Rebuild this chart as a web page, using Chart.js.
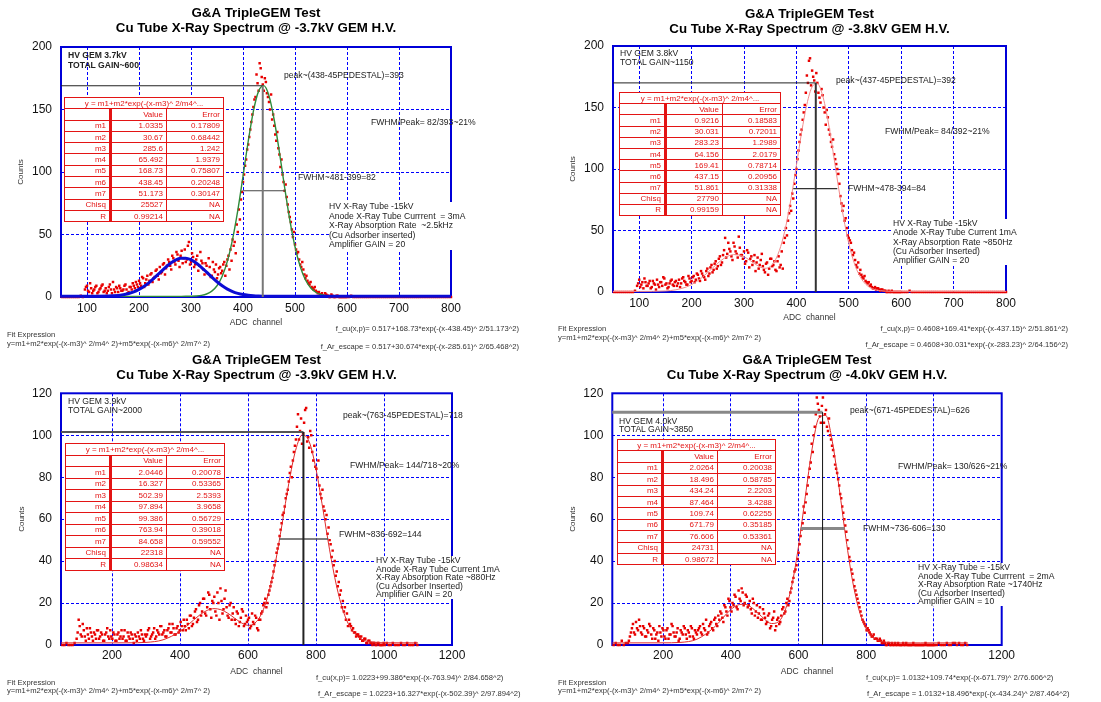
<!DOCTYPE html>
<html>
<head>
<meta charset="utf-8">
<title>G&amp;A TripleGEM Test - Cu Tube X-Ray Spectra</title>
<script src="https://cdn.jsdelivr.net/npm/chart.js@4.4.1/dist/chart.umd.min.js"></script>
<style>
  html, body { margin: 0; padding: 0; background: #fff; }
  body { position: relative; width: 1101px; height: 702px; overflow: hidden; font-family: "Liberation Sans", Arial, sans-serif; }
  canvas { position: absolute; }
  .note { position: absolute; font-size: 8.6px; line-height: 10px; color: #222; white-space: pre; }
  .box { background: #fff; padding-right: 6px; }
  .fit { position: absolute; font-size: 7.6px; line-height: 9px; color: #333; white-space: pre; }
  table.par { position: absolute; border-collapse: collapse; table-layout: fixed; background: #fff; color: #e31414; font-size: 8px; border: 1.5px solid #e31414; }
  table.par td { border: 1px solid #e31414; padding: 0 3px; text-align: right; white-space: nowrap; overflow: hidden; line-height: 9px; }
  table.par td.lab { border-right: 3px solid #e31414; }
  table.par td.head { text-align: center; }
</style>
</head>
<body>
<canvas id="c1" width="550" height="351" style="left:0;top:0"></canvas>
<canvas id="c2" width="550" height="351" style="left:550px;top:0"></canvas>
<canvas id="c3" width="550" height="351" style="left:0;top:350px"></canvas>
<canvas id="c4" width="550" height="351" style="left:550px;top:350px"></canvas>

<!-- panel 1 notes -->
<div class="note" style="left:68px;top:50px;font-weight:bold">HV GEM 3.7kV
TOTAL GAIN~600</div>
<div class="note" style="left:284px;top:70px">peak~(438-45PEDESTAL)=393</div>
<div class="note" style="left:371px;top:117px">FWHM/Peak= 82/393~21%</div>
<div class="note" style="left:298px;top:172px">FWHM~481-399=82</div>
<div class="note box" style="left:329px;top:202px;line-height:9.6px">HV X-Ray Tube -15kV
Anode X-Ray Tube Currrent  = 3mA
X-Ray Absorption Rate  ~2.5kHz
(Cu Adsorber inserted)
Amplifier GAIN = 20</div>
<div class="fit" style="left:7px;top:330px">Fit Expression
y=m1+m2*exp(-(x-m3)^ 2/m4^ 2)+m5*exp(-(x-m6)^ 2/m7^ 2)</div>
<div class="fit" style="right:582px;top:324px">f_cu(x,p)= 0.517+168.73*exp(-(x-438.45)^ 2/51.173^2)</div>
<div class="fit" style="right:582px;top:342px">f_Ar_escape = 0.517+30.674*exp(-(x-285.61)^ 2/65.468^2)</div>

<!-- panel 2 notes -->
<div class="note" style="left:620px;top:49px;line-height:9.3px">HV GEM 3.8kV
TOTAL GAIN~1150</div>
<div class="note" style="left:836px;top:75px">peak~(437-45PEDESTAL)=392</div>
<div class="note" style="left:885px;top:126px">FWHM/Peak= 84/392~21%</div>
<div class="note" style="left:848px;top:183px">FWHM~478-394=84</div>
<div class="note box" style="left:893px;top:219px;line-height:9.25px">HV X-Ray Tube -15kV
Anode X-Ray Tube Current 1mA
X-Ray Absorption Rate ~850Hz
(Cu Adsorber Inserted)
Amplifier GAIN = 20</div>
<div class="fit" style="left:558px;top:324px">Fit Expression
y=m1+m2*exp(-(x-m3)^ 2/m4^ 2)+m5*exp(-(x-m6)^ 2/m7^ 2)</div>
<div class="fit" style="right:33px;top:324px">f_cu(x,p)= 0.4608+169.41*exp(-(x-437.15)^ 2/51.861^2)</div>
<div class="fit" style="right:33px;top:340px">f_Ar_escape = 0.4608+30.031*exp(-(x-283.23)^ 2/64.156^2)</div>

<!-- panel 3 notes -->
<div class="note" style="left:68px;top:397px;line-height:8.6px">HV GEM 3.9kV
TOTAL GAIN~2000</div>
<div class="note" style="left:343px;top:410px">peak~(763-45PEDESTAL)=718</div>
<div class="note" style="left:350px;top:460px">FWHM/Peak= 144/718~20%</div>
<div class="note" style="left:339px;top:529px">FWHM~836-692=144</div>
<div class="note box" style="left:376px;top:556px;line-height:8.6px">HV X-Ray Tube -15kV
Anode X-Ray Tube Current 1mA
X-Ray Absorption Rate ~880Hz
(Cu Adsorber Inserted)
Amplifier GAIN = 20</div>
<div class="fit" style="left:7px;top:679px;line-height:8.4px">Fit Expression
y=m1+m2*exp(-(x-m3)^ 2/m4^ 2)+m5*exp(-(x-m6)^ 2/m7^ 2)</div>
<div class="fit" style="left:316px;top:673px">f_cu(x,p)= 1.0223+99.386*exp(-(x-763.94)^ 2/84.658^2)</div>
<div class="fit" style="left:318px;top:689px">f_Ar_escape = 1.0223+16.327*exp(-(x-502.39)^ 2/97.894^2)</div>

<!-- panel 4 notes -->
<div class="note" style="left:619px;top:417px;line-height:8.3px">HV GEM 4.0kV
TOTAL GAIN~3850</div>
<div class="note" style="left:850px;top:405px">peak~(671-45PEDESTAL)=626</div>
<div class="note" style="left:898px;top:461px">FWHM/Peak= 130/626~21%</div>
<div class="note" style="left:863px;top:523px">FWHM~736-606=130</div>
<div class="note box" style="left:918px;top:563px;line-height:8.6px">HV X-Ray Tube = -15kV
Anode X-Ray Tube Currrent  = 2mA
X-Ray Absorption Rate ~1740Hz
(Cu Adsorber Inserted)
Amplifier GAIN = 10</div>
<div class="fit" style="left:558px;top:679px;line-height:8.4px">Fit Expression
y=m1+m2*exp(-(x-m3)^ 2/m4^ 2)+m5*exp(-(x-m6)^ 2/m7^ 2)</div>
<div class="fit" style="left:866px;top:673px">f_cu(x,p)= 1.0132+109.74*exp(-(x-671.79)^ 2/76.606^2)</div>
<div class="fit" style="left:867px;top:689px">f_Ar_escape = 1.0132+18.496*exp(-(x-434.24)^ 2/87.464^2)</div>

<script>
// Triple-GEM Cu X-ray spectra, four HV settings, each with its two-gaussian fit

const TITLE = 'G&A TripleGEM Test';
const X_MIN = 50;

// ── Data ──────────────────────────────────────────────────

// ADC channels, top row (3.7kV / 3.8kV)
const ch12 = [
  52, 56, 60, 64, 68, 72, 76, 80, 84, 88, 92,
  96, 100, 104, 108, 112, 116, 120, 124, 128, 132, 136, 140, 144, 148, 152, 156, 160, 164, 168, 172, 176, 180, 184, 188, 192, 196,
  200, 204, 208, 212, 216, 220, 224, 228, 232, 236, 240, 244, 248, 252, 256, 260, 264, 268, 272, 276, 280, 284, 288, 292, 296,
  300, 304, 308, 312, 316, 320, 324, 328, 332, 336, 340, 344, 348, 352, 356, 360, 364, 368, 372, 376, 380, 384, 388, 392, 396,
  400, 404, 408, 412, 416, 420, 424, 428, 432, 436, 440, 444, 448, 452, 456, 460, 464, 468, 472, 476, 480, 484, 488, 492, 496,
  500, 504, 508, 512, 516, 520, 524, 528, 532, 536, 540, 544, 548, 552, 556, 560, 564, 568, 572, 576, 580, 584, 588, 592, 596,
  600, 604, 608, 612, 616, 620, 624, 628, 632, 636, 640, 644, 648, 652, 656, 660, 664, 668, 672, 676, 680, 684, 688, 692, 696,
  700, 704, 708, 712, 716, 720, 724, 728, 732, 736, 740, 744, 748, 752, 756, 760, 764, 768, 772, 776, 780, 784, 788, 792, 796, 800,
];
// in-between channels of the same spectra
const ch12b = [
  98, 102, 106, 110, 114, 118, 122, 126, 130, 134, 138, 142, 146, 150, 154, 158, 162, 166, 170, 174, 178, 182, 186, 190, 194, 198,
  202, 206, 210, 214, 218, 222, 226, 230, 234, 238, 242, 246, 250, 254, 258, 262, 266, 270, 274, 278, 282, 286, 290, 294, 298,
  302, 306, 310, 314, 318, 322, 326, 330, 334, 338, 342, 346, 350, 354, 358, 362, 366, 370, 374, 378, 382, 386, 390, 394, 398,
  402, 406, 410, 414, 418, 422, 426, 430, 434, 438, 442, 446, 450, 454, 458, 462, 466, 470, 474, 478, 482, 486, 490, 494, 498,
  502, 506, 510, 514, 518, 522, 526, 530, 534, 538, 542, 546, 550, 554, 558, 562, 566, 570, 574, 578, 582, 586, 590, 594, 598,
];

const counts1 = [
  0, 0, 0, 0, 0, 0, 0, 0, 0, 1, 0,
  6, 9, 4, 7, 5, 8, 3, 6, 9, 4, 7, 5, 10, 3, 6, 8, 4, 7, 5, 9, 6, 4, 8, 11, 7, 10,
  13, 9, 15, 11, 17, 13, 19, 15, 21, 17, 24, 20, 27, 23, 30, 25, 33, 28, 36, 29, 33, 27, 38, 30, 44,
  28, 32, 26, 33, 25, 29, 22, 27, 19, 24, 17, 22, 26, 18, 24, 21, 28, 25, 33, 38, 46, 44, 58, 70, 78,
  92, 105, 118, 128, 140, 152, 160, 171, 187, 176, 165, 172, 160, 150, 142, 137, 125, 119, 104, 98, 85, 80, 68, 60, 48,
  42, 35, 30, 24, 22, 15, 13, 10, 8, 6, 5, 3, 2, 3, 1, 2, 1, 0, 1, 0, 1, 0, 0, 0, 0,
  0, 0, 1, 0, 0, 0, 0, 0, 0, 0, 0, 0, 0, 0, 0, 0, 0, 0, 0, 0, 0, 0, 0, 0, 0,
  0, 0, 0, 0, 0, 0, 0, 0, 0, 0, 0, 0, 0, 0, 0, 0, 0, 0, 0, 0, 0, 0, 0, 0, 0, 0,
];
const counts1b = [
  8, 5, 11, 3, 6, 9, 4, 7, 10, 5, 3, 8, 6, 12, 4, 7, 9, 5, 6, 10, 3, 8, 6, 9, 12, 8,
  11, 16, 8, 14, 10, 18, 12, 16, 22, 14, 19, 26, 18, 25, 28, 22, 31, 26, 34, 24, 37, 31, 28, 41, 26,
  35, 24, 30, 21, 36, 27, 18, 25, 31, 16, 28, 20, 15, 23, 19, 26, 17, 30, 22, 29, 41, 35, 52, 62, 84,
  98, 110, 122, 134, 146, 158, 178, 165, 183, 170, 175, 163, 156, 162, 146, 130, 132, 114, 110, 92, 90, 74, 64, 54, 52,
  38, 36, 26, 28, 18, 17, 11, 12, 7, 8, 4, 4, 2, 1, 3, 1, 0, 2, 0, 0, 1, 0, 0, 0, 0,
];

const counts2 = [
  0, 0, 0, 0, 0, 0, 0, 0, 0, 0, 1,
  5, 10, 6, 3, 8, 5, 9, 4, 7, 2, 6, 8, 5, 11, 7, 4, 9, 6, 8, 5, 10, 7, 12, 8, 6, 11,
  9, 13, 10, 14, 9, 15, 12, 17, 13, 20, 16, 23, 19, 27, 22, 30, 44, 31, 35, 29, 40, 33, 28, 36, 30,
  33, 25, 32, 27, 22, 30, 24, 19, 26, 21, 16, 24, 19, 27, 22, 18, 25, 20, 33, 40, 52, 58, 70, 80, 88,
  100, 115, 128, 140, 152, 176, 188, 168, 175, 163, 170, 158, 165, 150, 136, 142, 128, 118, 112, 104, 96, 78, 66, 58, 52,
  44, 40, 30, 26, 20, 15, 14, 11, 9, 7, 5, 4, 3, 2, 3, 1, 2, 1, 0, 1, 0, 0, 0, 0, 0,
  0, 0, 0, 0, 1, 0, 0, 0, 0, 0, 0, 0, 0, 0, 0, 0, 0, 0, 0, 0, 0, 0, 0, 0, 0,
  0, 0, 0, 0, 0, 0, 0, 0, 0, 0, 0, 0, 0, 0, 0, 0, 0, 0, 0, 0, 0, 0, 0, 0, 0, 0,
];
const counts2b = [
  7, 4, 8, 11, 5, 7, 3, 9, 6, 10, 4, 8, 12, 6, 3, 7, 10, 5, 9, 7, 4, 11, 9, 6, 13, 8,
  12, 8, 15, 11, 17, 13, 10, 19, 15, 22, 18, 25, 21, 29, 24, 34, 28, 40, 33, 26, 37, 31, 45, 30, 27,
  23, 34, 20, 29, 25, 17, 28, 22, 31, 18, 23, 14, 27, 21, 25, 17, 29, 22, 19, 44, 46, 64, 66, 76, 95,
  108, 122, 132, 146, 162, 170, 190, 180, 172, 178, 162, 154, 160, 146, 148, 132, 122, 124, 108, 100, 88, 72, 70, 60, 46,
  42, 34, 32, 22, 24, 18, 12, 13, 8, 8, 6, 3, 4, 3, 2, 2, 1, 1, 0, 0, 1, 0, 0, 0, 0,
];

// ADC channels, bottom row (3.9kV / 4.0kV)
const ch34 = [
  54, 60, 66, 72, 78, 84, 90,
  96, 102, 108, 114, 120, 126, 132, 138, 144, 150, 156, 162, 168, 174, 180, 186, 192, 198,
  204, 210, 216, 222, 228, 234, 240, 246, 252, 258, 264, 270, 276, 282, 288, 294, 300,
  306, 312, 318, 324, 330, 336, 342, 348, 354, 360, 366, 372, 378, 384, 390, 396,
  402, 408, 414, 420, 426, 432, 438, 444, 450, 456, 462, 468, 474, 480, 486, 492, 498,
  504, 510, 516, 522, 528, 534, 540, 546, 552, 558, 564, 570, 576, 582, 588, 594, 600,
  606, 612, 618, 624, 630, 636, 642, 648, 654, 660, 666, 672, 678, 684, 690, 696,
  702, 708, 714, 720, 726, 732, 738, 744, 750, 756, 762, 768, 774, 780, 786, 792, 798,
  804, 810, 816, 822, 828, 834, 840, 846, 852, 858, 864, 870, 876, 882, 888, 894, 900,
  906, 912, 918, 924, 930, 936, 942, 948, 954, 960, 966, 972, 978, 984, 990, 996,
  1002, 1008, 1014, 1020, 1026, 1032, 1038, 1044, 1050, 1056, 1062, 1068, 1074, 1080, 1086, 1092, 1098,
];
const ch34b = [
  99, 105, 111, 117, 123, 129, 135, 141, 147, 153, 159, 165, 171, 177, 183, 189, 195,
  201, 207, 213, 219, 225, 231, 237, 243, 249, 255, 261, 267, 273, 279, 285, 291, 297,
  303, 309, 315, 321, 327, 333, 339, 345, 351, 357, 363, 369, 375, 381, 387, 393, 399,
  405, 411, 417, 423, 429, 435, 441, 447, 453, 459, 465, 471, 477, 483, 489, 495,
  501, 507, 513, 519, 525, 531, 537, 543, 549, 555, 561, 567, 573, 579, 585, 591, 597,
  603, 609, 615, 621, 627, 633, 639, 645, 651, 657, 663, 669, 675, 681, 687, 693, 699,
  705, 711, 717, 723, 729, 735, 741, 747, 753, 759, 765, 771, 777, 783, 789, 795,
  801, 807, 813, 819, 825, 831, 837, 843, 849, 855, 861, 867, 873, 879, 885, 891, 897,
  903, 909, 915, 921, 927, 933, 939, 945, 951, 957, 963, 969, 975, 981, 987, 993, 999,
];

const counts3 = [
  0, 0, 1, 0, 0, 0, 1,
  3, 12, 5, 10, 4, 8, 3, 6, 2, 5, 7, 3, 6, 2, 5, 8, 3, 4,
  6, 2, 5, 3, 7, 4, 2, 6, 3, 5, 1, 4, 6, 3, 5, 2, 4,
  7, 3, 5, 8, 4, 6, 9, 5, 7, 4, 8, 6, 10, 5, 8, 6,
  11, 7, 9, 12, 8, 14, 10, 16, 11, 19, 14, 22, 15, 18, 24, 13, 20,
  16, 25, 12, 21, 17, 26, 14, 19, 12, 18, 10, 15, 11, 17, 9, 14, 12,
  8, 15, 10, 13, 7, 12, 16, 20, 18, 24, 28, 32, 38, 44, 48, 55,
  62, 66, 72, 78, 85, 88, 95, 104, 98, 108, 101, 112, 97, 94, 100, 88, 85,
  80, 76, 70, 66, 60, 53, 50, 42, 38, 33, 28, 24, 18, 16, 12, 9, 10,
  7, 6, 4, 5, 3, 2, 3, 1, 2, 1, 0, 1, 0, 1, 0, 0,
  0, 1, 0, 0, 1, 0, 0, 0, 1, 0, 0, 1, 0, 0, 0, 1, 0,
];
const counts3b = [
  6, 9, 4, 7, 2, 5, 8, 4, 6, 3, 7, 4, 5, 2, 6, 4, 7,
  3, 5, 2, 6, 4, 3, 7, 2, 4, 6, 3, 5, 2, 4, 7, 3, 5,
  5, 8, 4, 6, 3, 7, 5, 9, 6, 4, 7, 10, 6, 8, 5, 9, 7,
  9, 12, 7, 10, 14, 9, 13, 17, 12, 20, 16, 22, 14, 25, 17, 21,
  23, 14, 20, 27, 15, 22, 18, 13, 20, 15, 12, 16, 9, 13, 16, 10, 11,
  13, 9, 11, 14, 8, 12, 15, 19, 22, 20, 26, 30, 35, 40, 46, 52, 58,
  63, 70, 74, 82, 80, 92, 98, 110, 102, 96, 106, 113, 99, 102, 92, 95,
  84, 88, 72, 74, 64, 62, 56, 48, 45, 40, 35, 30, 26, 21, 18, 15, 12,
  9, 8, 6, 5, 4, 4, 2, 3, 1, 2, 1, 1, 0, 1, 0, 0, 1,
];

const counts4 = [
  0, 1, 0, 0, 2, 0, 1,
  1, 4, 8, 6, 11, 7, 9, 5, 8, 4, 6, 9, 3, 7, 5, 2, 6, 8,
  4, 7, 3, 5, 9, 4, 6, 2, 7, 5, 8, 3, 6, 9, 4, 7, 5,
  8, 6, 10, 7, 5, 9, 11, 7, 13, 9, 12, 15, 11, 18, 14, 21,
  16, 19, 23, 17, 22, 27, 19, 24, 18, 21, 15, 20, 16, 13, 18, 12, 15,
  10, 14, 8, 12, 16, 9, 13, 11, 17, 15, 20, 19, 25, 30, 35, 38, 44,
  52, 58, 63, 72, 80, 87, 92, 104, 118, 112, 106, 118, 110, 104, 108, 98,
  93, 86, 82, 76, 70, 63, 57, 50, 42, 36, 31, 26, 22, 18, 14, 11, 9,
  8, 6, 4, 5, 3, 2, 3, 1, 2, 0, 1, 0, 1, 0, 0, 1, 0,
  0, 0, 1, 0, 0, 0, 0, 0, 0, 0, 0, 0, 0, 0, 0, 0,
  0, 0, 1, 0, 0, 0, 1, 0, 0, 1, 1, 0, 1, 0, 0, 1, 0,
];
const counts4b = [
  2, 6, 10, 5, 8, 12, 6, 9, 4, 7, 10, 5, 8, 3, 6, 9, 4,
  7, 3, 8, 5, 10, 6, 4, 8, 3, 6, 9, 5, 7, 4, 8, 3, 6,
  7, 9, 5, 8, 12, 6, 10, 8, 12, 10, 14, 16, 13, 19, 16, 22, 18,
  20, 24, 18, 26, 21, 25, 20, 23, 19, 17, 22, 14, 19, 15, 12, 17,
  13, 11, 15, 9, 13, 7, 12, 10, 14, 18, 16, 22, 21, 27, 32, 36, 41,
  48, 55, 66, 68, 76, 84, 96, 100, 110, 115, 109, 114, 106, 112, 102, 100, 95,
  90, 84, 79, 72, 66, 60, 54, 46, 40, 34, 28, 24, 20, 16, 12, 10,
  7, 7, 5, 4, 3, 3, 2, 2, 1, 1, 0, 1, 0, 0, 1, 0, 0,
  0, 1, 0, 0, 0, 0, 1, 0, 0, 0, 0, 0, 1, 0, 0, 0, 0,
];

// Fit curves
const fitX12 = [50, 100, 150, 170, 190, 200, 210, 220, 230, 240, 250, 260, 270, 280, 290, 300, 310, 320, 330, 340,
  350, 360, 370, 380, 390, 400, 410, 420, 430, 440, 450, 460, 470, 480, 490, 500, 510, 520, 530, 540, 550, 560, 580, 600, 700, 800];

const cuFit1 = [0.52, 0.52, 0.52, 0.52, 0.52, 0.52, 0.52, 0.52, 0.52, 0.52, 0.52, 0.52, 0.52, 0.53, 0.55, 0.63, 0.83, 1.31, 2.41, 4.69,
  9.02, 16.6, 28.7, 46.3, 69.3, 96.5, 124.4, 148.7, 164.7, 169.1, 160.9, 141.8, 115.9, 87.8, 61.7, 40.2, 24.4, 13.8, 7.39, 3.81, 1.97, 1.12, 0.60, 0.52, 0.52, 0.52];
const arFit1 = [0.52, 0.53, 0.94, 1.87, 4.15, 6.06, 8.60, 11.75, 15.42, 19.40, 23.33, 26.84, 29.50, 30.97, 31.05, 29.74, 27.22, 23.79, 19.88, 15.90,
  12.18, 8.95, 6.34, 4.35, 2.93, 1.96, 1.35, 0.97, 0.75, 0.64, 0.57, 0.54, 0.53, 0.52, 0.52, 0.52, 0.52, 0.52, 0.52, 0.52, 0.52, 0.52, 0.52, 0.52, 0.52, 0.52];
const sumFit2 = [0.46, 0.47, 0.86, 1.79, 4.09, 6.04, 8.61, 11.81, 15.54, 19.53, 23.42, 26.80, 29.24, 30.41, 30.16, 28.67, 26.10, 23.11, 20.48, 19.26,
  20.69, 26.15, 36.96, 53.85, 76.47, 102.95, 129.87, 152.68, 166.81, 169.43, 159.8, 140.0, 113.9, 86.1, 60.4, 39.5, 24.0, 13.7, 7.33, 3.78, 1.95, 1.08, 0.55, 0.46, 0.46, 0.46];

const fitX34 = [50, 100, 200, 250, 300, 350, 400, 420, 440, 460, 480, 500, 520, 540, 560, 580, 600, 620, 640, 660,
  680, 700, 720, 740, 760, 780, 800, 820, 840, 860, 880, 900, 920, 940, 960, 1000, 1100];

const sumFit3 = [1.02, 1.02, 1.02, 1.04, 1.25, 2.47, 6.49, 9.06, 11.90, 14.55, 16.51, 17.34, 16.85, 15.20, 12.87, 10.62, 9.40, 10.40, 14.94, 24.25,
  38.81, 57.48, 77.05, 92.81, 100.21, 96.9, 83.91, 65.12, 45.36, 28.45, 16.20, 8.53, 4.34, 2.33, 1.49, 1.06, 1.02];
const sumFit4 = [1.01, 1.01, 1.03, 1.23, 2.76, 8.32, 16.88, 19.02, 19.43, 18.02, 15.29, 12.24, 10.24, 10.99, 16.40, 28.27, 47.12, 70.69, 93.5, 108.2,
  109.5, 96.83, 74.86, 50.68, 30.15, 15.93, 7.67, 3.61, 1.89, 1.27, 1.08, 1.03, 1.01, 1.01, 1.01, 1.01, 1.01];

// Peak markers: [peak channel, peak height, FWHM low, FWHM high, half height]
const marks1 = [438, 169, 399, 481, 85];
const marks2 = [437, 170, 394, 478, 84];
const marks3 = [763, 101.5, 692, 836, 50.5];
const marks4 = [671, 111, 606, 736, 55.5];

// Axis ticks
const xTicks12 = [100, 200, 300, 400, 500, 600, 700, 800];
const yTicks12 = [0, 50, 100, 150, 200];
const xTicks34 = [200, 400, 600, 800, 1000, 1200];
const yTicks34 = [0, 20, 40, 60, 80, 100, 120];

// Fit parameter tables
const FIT_HEAD = 'y = m1+m2*exp(-(x-m3)^ 2/m4^...';
const params1 = [['m1', '1.0335', '0.17809'], ['m2', '30.67', '0.68442'], ['m3', '285.6', '1.242'], ['m4', '65.492', '1.9379'],
  ['m5', '168.73', '0.75807'], ['m6', '438.45', '0.20248'], ['m7', '51.173', '0.30147'], ['Chisq', '25527', 'NA'], ['R', '0.99214', 'NA']];
const params2 = [['m1', '0.9216', '0.18583'], ['m2', '30.031', '0.72011'], ['m3', '283.23', '1.2989'], ['m4', '64.156', '2.0179'],
  ['m5', '169.41', '0.78714'], ['m6', '437.15', '0.20956'], ['m7', '51.861', '0.31338'], ['Chisq', '27790', 'NA'], ['R', '0.99159', 'NA']];
const params3 = [['m1', '2.0446', '0.20078'], ['m2', '16.327', '0.53365'], ['m3', '502.39', '2.5393'], ['m4', '97.894', '3.9658'],
  ['m5', '99.386', '0.56729'], ['m6', '763.94', '0.39018'], ['m7', '84.658', '0.59552'], ['Chisq', '22318', 'NA'], ['R', '0.98634', 'NA']];
const params4 = [['m1', '2.0264', '0.20038'], ['m2', '18.496', '0.58785'], ['m3', '434.24', '2.2203'], ['m4', '87.464', '3.4288'],
  ['m5', '109.74', '0.62255'], ['m6', '671.79', '0.35185'], ['m7', '76.606', '0.53361'], ['Chisq', '24731', 'NA'], ['R', '0.98672', 'NA']];

// ── Style ─────────────────────────────────────────────────

const RED = '#e80000';
const GRID_BLUE = '#0000ff';
const FRAME_BLUE = '#0000d8';

Chart.defaults.font.family = '"Liberation Sans", Arial, Helvetica, sans-serif';
Chart.defaults.color = '#000';

// solid blue frame round the plot area, under the data
const frameBox = {
  id: 'frameBox',
  beforeDatasetsDraw(chart) {
    const { ctx, chartArea: a } = chart;
    ctx.save();
    ctx.setLineDash([]);
    ctx.strokeStyle = FRAME_BLUE;
    ctx.lineWidth = 2;
    ctx.strokeRect(a.left, a.top, a.right - a.left, a.bottom - a.top);
    ctx.restore();
  },
};

// ── Helpers ───────────────────────────────────────────────

function xy(xs, ys) {
  if (xs.length !== ys.length) console.error('length mismatch', xs.length, ys.length);
  return xs.map((x, i) => ({ x, y: ys[i] }));
}

function lineSet(data, color, width, smooth) {
  return {
    data,
    showLine: true,
    borderColor: color,
    borderWidth: width,
    pointRadius: 0,
    fill: false,
    tension: 0,
    cubicInterpolationMode: smooth ? 'monotone' : 'default',
    clip: 3,
  };
}

function buildTable(params, pos) {
  const t = document.createElement('table');
  t.className = 'par';
  t.style.left = pos.left + 'px';
  t.style.top = pos.top + 'px';
  t.style.width = pos.cols.reduce((a, b) => a + b, 0) + 'px';
  const cg = document.createElement('colgroup');
  pos.cols.forEach(w => {
    const c = document.createElement('col');
    c.style.width = w + 'px';
    cg.appendChild(c);
  });
  t.appendChild(cg);
  const rows = [['', 'Value', 'Error'], ...params];
  let html = `<tr style="height:${pos.rowH}px"><td class="head" colspan="3">${FIT_HEAD}</td></tr>`;
  html += rows.map(r => `<tr style="height:${pos.rowH}px"><td class="lab">${r[0]}</td><td>${r[1]}</td><td>${r[2]}</td></tr>`).join('');
  t.insertAdjacentHTML('beforeend', html);
  document.body.appendChild(t);
}

function makePanel(p) {
  const [pk, ph, lo, hi, half] = p.marks;
  const datasets = [
    lineSet(xy([pk, pk], [0, ph]), p.vColor, p.vWidth, false),
    lineSet(xy([X_MIN, pk], [ph, ph]), p.hColor, p.hWidth, false),
    lineSet(xy([lo, hi], [half, half]), p.fColor, p.fWidth, false),
    ...p.fits.map(f => lineSet(xy(f.x, f.y), f.color, f.width, true)),
    {
      data: xy(p.ch, p.counts).concat(xy(p.chB, p.countsB)),
      showLine: false,
      pointStyle: 'rect',
      pointRadius: 1.75,
      pointBorderWidth: 0,
      pointBackgroundColor: RED,
      clip: 3,
    },
  ];

  const canvasH = 351;
  new Chart(document.getElementById(p.id), {
    type: 'scatter',
    data: { datasets },
    options: {
      responsive: false,
      animation: false,
      events: [],
      layout: { padding: { left: 0, top: 0, right: 550 - p.area.right, bottom: 0 } },
      plugins: {
        legend: { display: false },
        tooltip: { enabled: false },
        title: {
          display: true,
          fullSize: false,
          text: [TITLE, p.subtitle],
          color: '#000',
          font: { size: 13.3, weight: 'bold', lineHeight: '15px' },
          padding: { top: p.titleTop, bottom: p.area.top - p.titleTop - 30 },
        },
      },
      scales: {
        x: {
          type: 'linear',
          min: X_MIN,
          max: p.xMax,
          afterBuildTicks: s => { s.ticks = p.xTicks.map(v => ({ value: v })); },
          afterFit: s => { s.height = canvasH - p.area.bottom; },
          grid: { color: GRID_BLUE, lineWidth: 1, drawTicks: false },
          border: { display: false, dash: [3, 2] },
          ticks: { color: '#111', font: { size: 12 }, padding: p.xTickPad, maxRotation: 0, autoSkip: false, callback: v => String(v) },
          title: { display: true, text: 'ADC  channel', color: '#333', font: { size: 8.5 }, padding: { top: 0, bottom: p.xTitlePad } },
        },
        y: {
          type: 'linear',
          min: 0,
          max: p.yMax,
          afterBuildTicks: s => { s.ticks = p.yTicks.map(v => ({ value: v })); },
          afterFit: s => { s.width = p.area.left; },
          grid: { color: GRID_BLUE, lineWidth: 1, drawTicks: false },
          border: { display: false, dash: [3, 2] },
          ticks: { color: '#111', font: { size: 12 }, padding: 9, autoSkip: false, callback: v => String(v) },
          title: { display: true, text: 'Counts', color: '#333', font: { size: 8 }, padding: { top: p.yTitlePad, bottom: 0 } },
        },
      },
    },
    plugins: [frameBox],
  });
}

// ── Panels ────────────────────────────────────────────────

makePanel({
  id: 'c1', subtitle: 'Cu Tube X-Ray Spectrum @ -3.7kV GEM H.V.',
  ch: ch12, counts: counts1, chB: ch12b, countsB: counts1b,
  xMax: 800, yMax: 200, xTicks: xTicks12, yTicks: yTicks12, marks: marks1,
  fits: [
    { x: fitX12, y: arFit1, color: '#0c0cd4', width: 3 },
    { x: fitX12, y: cuFit1, color: '#2f8a3a', width: 1.4 },
  ],
  area: { left: 61, top: 47, right: 451, bottom: 297 },
  titleTop: 5.5, xTickPad: 4, xTitlePad: 23, yTitlePad: 16,
  vColor: '#777', vWidth: 2, hColor: '#222', hWidth: 1, fColor: '#444', fWidth: 1.2,
});

makePanel({
  id: 'c2', subtitle: 'Cu Tube X-Ray Spectrum @ -3.8kV GEM H.V.',
  ch: ch12, counts: counts2, chB: ch12b, countsB: counts2b,
  xMax: 800, yMax: 200, xTicks: xTicks12, yTicks: yTicks12, marks: marks2,
  fits: [{ x: fitX12, y: sumFit2, color: '#f28a8a', width: 1 }],
  area: { left: 63, top: 46, right: 456, bottom: 292 },
  titleTop: 6.5, xTickPad: 4, xTitlePad: 28, yTitlePad: 18,
  vColor: '#333', vWidth: 2, hColor: '#222', hWidth: 1, fColor: '#333', fWidth: 1.2,
});

makePanel({
  id: 'c3', subtitle: 'Cu Tube X-Ray Spectrum @ -3.9kV GEM H.V.',
  ch: ch34, counts: counts3, chB: ch34b, countsB: counts3b,
  xMax: 1200, yMax: 120, xTicks: xTicks34, yTicks: yTicks34, marks: marks3,
  fits: [{ x: fitX34, y: sumFit3, color: '#e02a2a', width: 1 }],
  area: { left: 61, top: 43.3, right: 452, bottom: 295 },
  titleTop: 3.2, xTickPad: 3, xTitlePad: 24, yTitlePad: 17,
  vColor: '#222', vWidth: 2, hColor: '#555', hWidth: 2, fColor: '#555', fWidth: 1.5,
});

makePanel({
  id: 'c4', subtitle: 'Cu Tube X-Ray Spectrum @ -4.0kV GEM H.V.',
  ch: ch34, counts: counts4, chB: ch34b, countsB: counts4b,
  xMax: 1200, yMax: 120, xTicks: xTicks34, yTicks: yTicks34, marks: marks4,
  fits: [{ x: fitX34, y: sumFit4, color: '#e02a2a', width: 1 }],
  area: { left: 62.3, top: 43.3, right: 451.7, bottom: 295 },
  titleTop: 3.2, xTickPad: 3, xTitlePad: 24, yTitlePad: 18,
  vColor: '#111', vWidth: 1, hColor: '#888', hWidth: 3, fColor: '#888', fWidth: 3,
});

// ── Parameter tables ──────────────────────────────────────

buildTable(params1, { left: 64, top: 97, cols: [46, 56, 57], rowH: 11.3 });
buildTable(params2, { left: 619, top: 92, cols: [46, 57, 58], rowH: 11.2 });
buildTable(params3, { left: 65, top: 443, cols: [45, 56, 58], rowH: 11.5 });
buildTable(params4, { left: 617, top: 439, cols: [45, 55, 58], rowH: 11.4 });
</script>
</body>
</html>
